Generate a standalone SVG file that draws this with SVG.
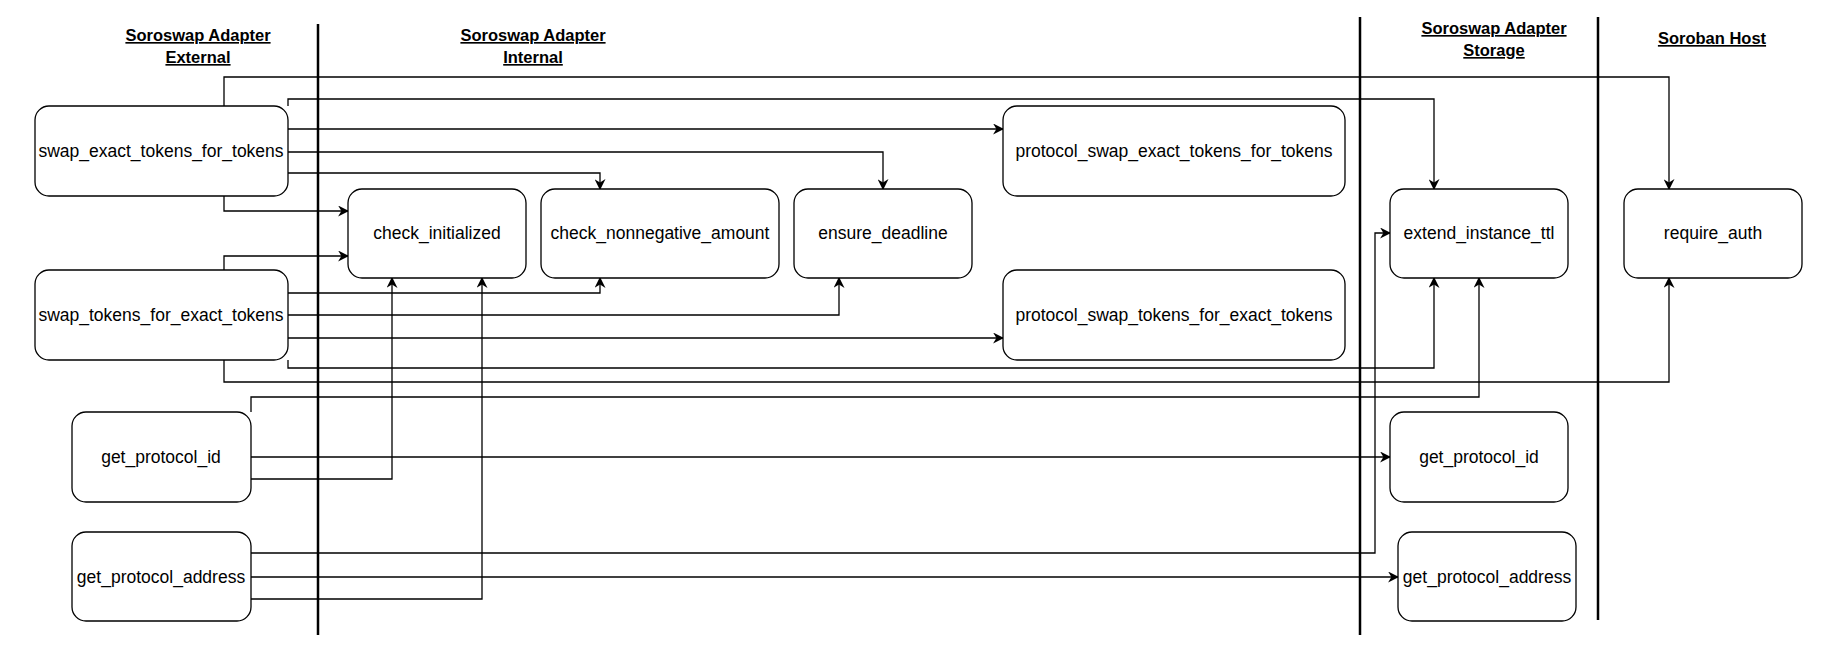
<svg xmlns="http://www.w3.org/2000/svg" width="1828" height="656" viewBox="0 0 1828 656">
<style>
.n rect{fill:#fff;stroke:#000;stroke-width:1.3}
.n text{font-family:"Liberation Sans",Arial,sans-serif;font-size:17.5px;text-anchor:middle;dominant-baseline:central}
.h{font-family:"Liberation Sans",Arial,sans-serif;font-size:16.5px;font-weight:bold;text-anchor:middle;text-decoration:underline}
.c path{fill:none;stroke:#000;stroke-width:1.3}
.sep{stroke:#000;stroke-width:2.5}
</style>
<defs><marker id="a" viewBox="0 0 10 10" refX="9" refY="5" markerWidth="11" markerHeight="11" markerUnits="userSpaceOnUse" orient="auto"><path d="M0,0 L10,5 L0,10 L3,5 Z" fill="#000"/></marker></defs>
<rect width="1828" height="656" fill="#fff"/>
<line class="sep" x1="318" y1="24" x2="318" y2="635"/>
<line class="sep" x1="1360" y1="17" x2="1360" y2="635"/>
<line class="sep" x1="1598" y1="17" x2="1598" y2="620"/>
<text class="h" x="198" y="41">Soroswap Adapter</text>
<text class="h" x="198" y="63">External</text>
<text class="h" x="533" y="41">Soroswap Adapter</text>
<text class="h" x="533" y="63">Internal</text>
<text class="h" x="1494" y="34">Soroswap Adapter</text>
<text class="h" x="1494" y="56">Storage</text>
<text class="h" x="1712" y="44">Soroban Host</text>
<g class="c" marker-end="url(#a)">
<path d="M224,106 V77 H1669 V189"/>
<path d="M288,106 V99 H1434 V189"/>
<path d="M288,129 H1003"/>
<path d="M288,152 H883 V189"/>
<path d="M288,173 H600 V189"/>
<path d="M224,196 V211 H348"/>
<path d="M224,270 V256 H348"/>
<path d="M288,293 H600 V278"/>
<path d="M288,315 H839 V278"/>
<path d="M288,338 H1003"/>
<path d="M288,360 V368 H1434 V278"/>
<path d="M224,360 V382 H1669 V278"/>
<path d="M251,412 V397 H1479 V278"/>
<path d="M251,457 H1390"/>
<path d="M251,479 H392 V278"/>
<path d="M251,553 H1375 V233 H1390"/>
<path d="M251,577 H1398"/>
<path d="M251,599 H482 V278"/>
</g>
<g id="swap_exact" class="n"><rect x="35" y="106" width="253" height="90" rx="14"/><text x="161" y="151">swap_exact_tokens_for_tokens</text></g>
<g id="swap_tokens" class="n"><rect x="35" y="270" width="253" height="90" rx="14"/><text x="161" y="315">swap_tokens_for_exact_tokens</text></g>
<g id="get_id_ext" class="n"><rect x="72" y="412" width="179" height="90" rx="14"/><text x="161" y="457">get_protocol_id</text></g>
<g id="get_addr_ext" class="n"><rect x="72" y="532" width="179" height="89" rx="14"/><text x="161" y="577">get_protocol_address</text></g>
<g id="check_initialized" class="n"><rect x="348" y="189" width="178" height="89" rx="14"/><text x="437" y="233">check_initialized</text></g>
<g id="check_nonneg" class="n"><rect x="541" y="189" width="238" height="89" rx="14"/><text x="660" y="233">check_nonnegative_amount</text></g>
<g id="ensure_deadline" class="n"><rect x="794" y="189" width="178" height="89" rx="14"/><text x="883" y="233">ensure_deadline</text></g>
<g id="proto_exact" class="n"><rect x="1003" y="106" width="342" height="90" rx="14"/><text x="1174" y="151">protocol_swap_exact_tokens_for_tokens</text></g>
<g id="proto_tokens" class="n"><rect x="1003" y="270" width="342" height="90" rx="14"/><text x="1174" y="315">protocol_swap_tokens_for_exact_tokens</text></g>
<g id="extend_ttl" class="n"><rect x="1390" y="189" width="178" height="89" rx="14"/><text x="1479" y="233">extend_instance_ttl</text></g>
<g id="require_auth" class="n"><rect x="1624" y="189" width="178" height="89" rx="14"/><text x="1713" y="233">require_auth</text></g>
<g id="get_id_st" class="n"><rect x="1390" y="412" width="178" height="90" rx="14"/><text x="1479" y="457">get_protocol_id</text></g>
<g id="get_addr_st" class="n"><rect x="1398" y="532" width="178" height="89" rx="14"/><text x="1487" y="577">get_protocol_address</text></g>
</svg>
